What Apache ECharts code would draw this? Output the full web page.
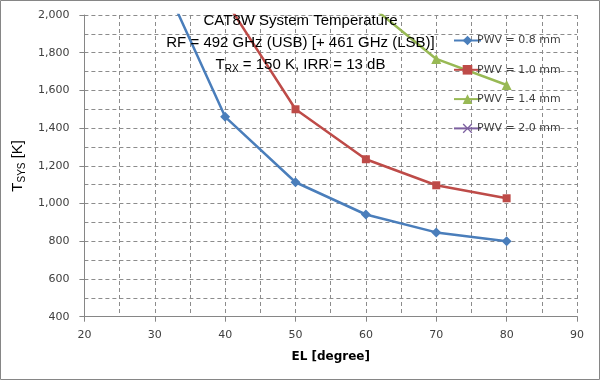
<!DOCTYPE html>
<html>
<head>
<meta charset="utf-8">
<script src="https://cdn.jsdelivr.net/npm/echarts@6/dist/echarts.min.js"></script>
<style>html,body{margin:0;padding:0;background:#fff}#c{width:601px;height:381px}</style>
</head>
<body>
<div id="c"></div>
<script>
// Data (elevation in degrees, Tsys in K)
const elevations = [30, 40, 50, 60, 70, 80];
const pwv08 = [2280, 1460, 1113, 942, 847, 800];
const pwv10 = [null, 2080, 1500, 1235, 1097, 1028];
const pwv14 = [null, null, null, 2070, 1767, 1629];
const pwv20 = [null, null, null, 2700, 2350, 2150];
const seriesNames = ['PWV = 0.8 mm', 'PWV = 1.0 mm', 'PWV = 1.4 mm', 'PWV = 2.0 mm'];
const xTicks = [20, 30, 40, 50, 60, 70, 80, 90];
const yTicks = [400, 600, 800, 1000, 1200, 1400, 1600, 1800, 2000];

function pairs(vals) {
  const out = [];
  elevations.forEach((e, i) => { if (vals[i] != null) out.push([e, vals[i]]); });
  return out;
}
const fmt = v => String(v).replace(/\B(?=(\d{3})+(?!\d))/g, ',');
const crossPath = 'path://M0,1 L1,0 L5,4 L9,0 L10,1 L6,5 L10,9 L9,10 L5,6 L1,10 L0,9 L4,5 Z';

const chart = echarts.init(document.getElementById('c'));
const gridDash = { show: true, lineStyle: { color: '#8c8c8c', type: [4, 3], width: 1 } };
chart.setOption({
  animation: false,
  title: {
    left: 'center', top: 5,
    text: '{a|CAT8W System Temperature}\n{a|RF = 492 GHz (USB) [+ 461 GHz (LSB)]}\n{a|T}{s|RX}{a| = 150 K, IRR = 13 dB}',
    textStyle: {
      fontWeight: 'normal',
      rich: {
        a: { fontFamily: 'Liberation Sans', fontSize: 15, fontWeight: 'normal', color: '#000', lineHeight: 22 },
        s: { fontFamily: 'Liberation Sans', fontSize: 10, fontWeight: 'normal', color: '#000', lineHeight: 22, padding: [8, 0, 0, 0] }
      }
    }
  },
  legend: {
    orient: 'vertical', left: 448, top: 30, itemGap: 18.3, itemWidth: 27, itemHeight: 12,
    data: seriesNames,
    textStyle: { fontFamily: 'DejaVu Sans', fontSize: 11, color: '#404040', padding: [0, 0, 0, -9] }
  },
  grid: { left: 84.4, right: 24, top: 15, bottom: 64.3, containLabel: false },
  xAxis: {
    type: 'value', min: xTicks[0], max: xTicks[xTicks.length - 1], interval: 10,
    name: '{b|EL [degree]}', nameLocation: 'middle', nameGap: 34,
    nameTextStyle: { rich: { b: { fontFamily: 'DejaVu Sans', fontSize: 12, fontWeight: 'bold', color: '#000' } } },
    axisLine: { show: true, lineStyle: { color: '#868686', width: 1 } },
    axisTick: { show: true, length: 5, lineStyle: { color: '#868686' } },
    axisLabel: { fontFamily: 'DejaVu Sans', fontSize: 11, color: '#404040', margin: 13 },
    splitLine: gridDash,
    minorTick: { show: false, splitNumber: 2 },
    minorSplitLine: gridDash
  },
  yAxis: {
    type: 'value', min: yTicks[0], max: yTicks[yTicks.length - 1], interval: 200,
    name: '{t|T}{u|SYS}{t| [K]}', nameLocation: 'middle', nameGap: 52, nameRotate: 90,
    nameTextStyle: { rich: {
      t: { fontFamily: 'Liberation Sans', fontSize: 15, color: '#000', lineHeight: 20 },
      u: { fontFamily: 'Liberation Sans', fontSize: 10, color: '#000', lineHeight: 20, padding: [8, 0, 0, 0] }
    } },
    axisLine: { show: true, lineStyle: { color: '#868686', width: 1 } },
    axisTick: { show: true, length: 5, lineStyle: { color: '#868686' } },
    axisLabel: { fontFamily: 'DejaVu Sans', fontSize: 11, color: '#404040', margin: 15, formatter: fmt },
    splitLine: gridDash,
    minorTick: { show: false, splitNumber: 2 },
    minorSplitLine: gridDash
  },
  graphic: [{
    type: 'rect', shape: { x: 0.5, y: 0.5, width: 599, height: 379 },
    style: { fill: 'none', stroke: '#868686', lineWidth: 1 }, silent: true, z: 100
  }],
  series: [
    { name: seriesNames[0], type: 'line', data: pairs(pwv08), symbol: 'diamond', symbolSize: 10,
      itemStyle: { color: '#4A7EBB' }, lineStyle: { width: 2.5, color: '#4A7EBB' }, clip: true },
    { name: seriesNames[1], type: 'line', data: pairs(pwv10), symbol: 'rect', symbolSize: 8,
      itemStyle: { color: '#BE4B48' }, lineStyle: { width: 2.5, color: '#BE4B48' }, clip: true },
    { name: seriesNames[2], type: 'line', data: pairs(pwv14), symbol: 'triangle', symbolSize: 10,
      itemStyle: { color: '#98B954' }, lineStyle: { width: 2.5, color: '#98B954' }, clip: true },
    { name: seriesNames[3], type: 'line', data: pairs(pwv20), symbol: crossPath, symbolSize: 9,
      itemStyle: { color: '#7D60A0' }, lineStyle: { width: 2.5, color: '#7D60A0' }, clip: true }
  ]
});
</script>
</body>
</html>
